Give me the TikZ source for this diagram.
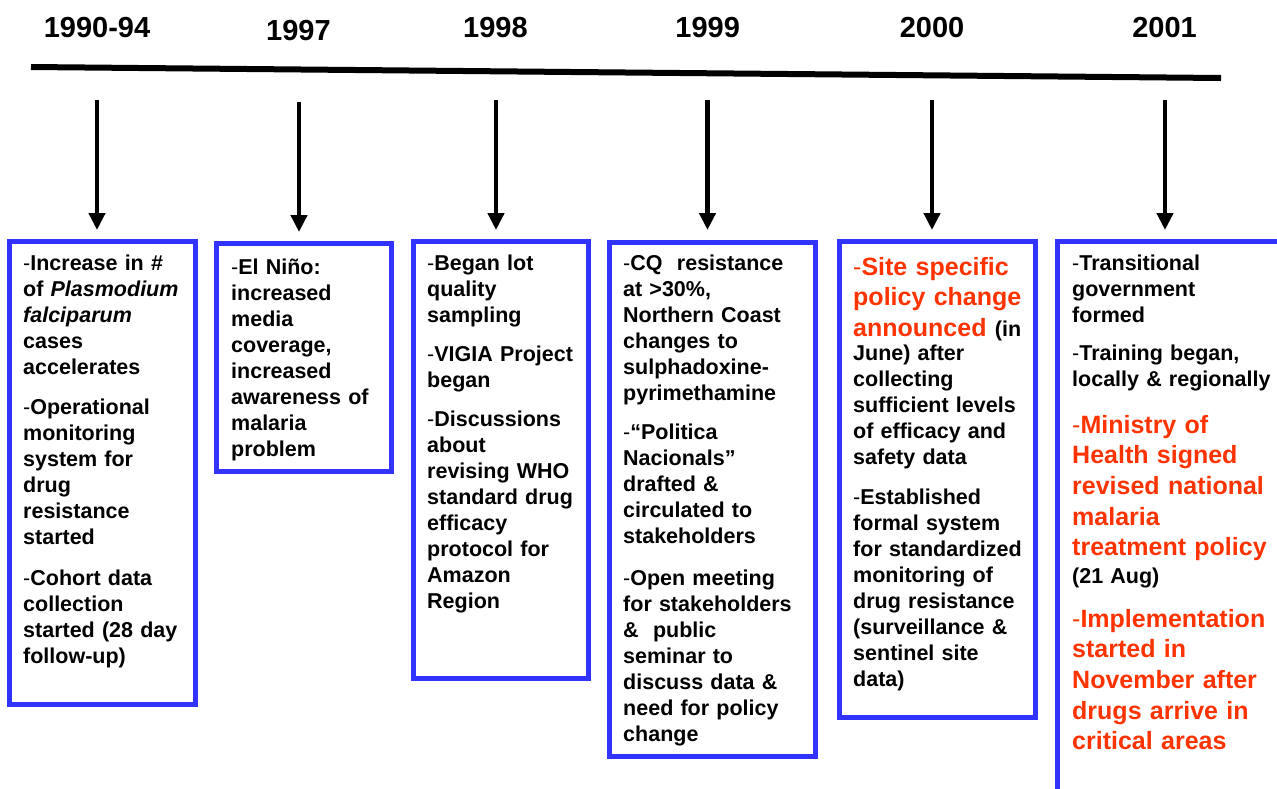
\documentclass[tikz,border=0pt]{standalone}
\usepackage{fontspec}
\setmainfont{Liberation Sans}
\usetikzlibrary{arrows.meta}
\definecolor{boxblue}{RGB}{51,51,255}
\definecolor{hired}{RGB}{255,51,0}
\newcommand\hy{{\mdseries -}}
\newcommand\blk[1]{{\color{black}\fontsize{21.5}{26}\selectfont #1}}
\tikzset{
  yearlbl/.style={anchor=base, inner sep=0pt, font=\bfseries\fontsize{29}{34}\selectfont},
  boxnode/.style={draw=boxblue, line width=5pt, rectangle, inner sep=0pt, outer sep=0pt, anchor=north west},
  arr/.style={line width=4.5pt, -{Triangle[length=17pt,width=16pt]}},
  txt/.style={anchor=base west, inner sep=0pt, text width=260pt, align=left, font=\bfseries\fontsize{21.5}{26}\selectfont},
  redtxt/.style={anchor=base west, inner sep=0pt, text width=260pt, align=left, text=hired, font=\bfseries\fontsize{25}{30.7}\selectfont}
}
\begin{document}
\begin{tikzpicture}[x=1pt,y=-1pt]
\useasboundingbox (0,0) rectangle (1277,788);
\clip (0,0) rectangle (1277,788);
\fill[white] (0,0) rectangle (1277,788);

% timeline
\coordinate (tl0) at (31,67);
\coordinate (tl1) at (1221,78);
\draw[line width=6pt] (tl0) -- (tl1);

% years
\node[yearlbl] (y1) at (97,37) {1990-94};
\node[yearlbl] (y2) at (298.5,40.5) {1997};
\node[yearlbl] (y3) at (495.5,37) {1998};
\node[yearlbl] (y4) at (707.7,37) {1999};
\node[yearlbl] (y5) at (932,37) {2000};
\node[yearlbl] (y6) at (1164.5,37) {2001};

% boxes
\node[boxnode, minimum width=185.4pt, minimum height=462.4pt] (b1) at (9.8,241.8) {};
\node[boxnode, minimum width=175pt, minimum height=228pt] (b2) at (216.8,243.5) {};
\node[boxnode, minimum width=174.5pt, minimum height=437pt] (b3) at (413.5,241.5) {};
\node[boxnode, minimum width=206pt, minimum height=514pt] (b4) at (609.8,242) {};
\node[boxnode, minimum width=196.6pt, minimum height=476.5pt] (b5) at (839.2,241.4) {};
\node[boxnode, minimum width=300pt, minimum height=600pt] (b6) at (1057.5,241.5) {};

% arrows
\coordinate (a1) at (97,99.5);
\coordinate (a2) at (299,101.5);
\coordinate (a3) at (496,99.5);
\coordinate (a4) at (707.5,99.5);
\coordinate (a5) at (932,99.5);
\coordinate (a6) at (1165,99.5);
\coordinate (e1) at ([yshift=11.8pt]b1.north);
\coordinate (e2) at ([yshift=11.5pt]b2.north);
\coordinate (e3) at ([yshift=11.5pt]b3.north);
\coordinate (e4) at ([yshift=12pt]b4.north);
\coordinate (e5) at ([yshift=11.4pt]b5.north);
\coordinate (e6) at ([yshift=11.5pt]b6.north);
\draw[arr] (a1) -- (a1 |- e1);
\draw[arr] (a2) -- (a2 |- e2);
\draw[arr] (a3) -- (a3 |- e3);
\draw[arr] (a4) -- (a4 |- e4);
\draw[arr] (a5) -- (a5 |- e5);
\draw[arr] (a6) -- (a6 |- e6);

% box 1
\node[txt] (t11) at (23,270.5) {\hy Increase in \#\\of \textit{Plasmodium}\\\textit{falciparum}\\cases\\accelerates};
\node[txt] (t12) at (23,414.5) {\hy Operational\\monitoring\\system for\\drug\\resistance\\started};
\node[txt] (t13) at (23,585.5) {\hy Cohort data\\collection\\started (28 day\\follow-up)};

% box 2
\node[txt] (t21) at (231,274.5) {\hy El Niño:\\increased\\media\\coverage,\\increased\\awareness of\\malaria\\problem};

% box 3
\node[txt] (t31) at (427,270.5) {\hy Began lot\\quality\\sampling};
\node[txt] (t32) at (427,361.5) {\hy VIGIA Project\\began};
\node[txt] (t33) at (427,426.5) {\hy Discussions\\about\\revising WHO\\standard drug\\efficacy\\protocol for\\Amazon\\Region};

% box 4
\node[txt] (t41) at (623,270.5) {\hy CQ~ resistance\\at >30\%,\\Northern Coast\\changes to\\sulphadoxine-\\pyrimethamine};
\node[txt] (t42) at (623,439.5) {\hy “Politica\\Nacionals”\\drafted \&\\circulated to\\stakeholders};
\node[txt] (t43) at (623,585.5) {\hy Open meeting\\for stakeholders\\\&~ public\\seminar to\\discuss data \&\\need for policy\\change};

% box 5
\node[redtxt] (t51) at (853,275) {\hy Site specific\\policy change\\announced \blk{(in}};
\node[txt] (t52) at (853,360.5) {June) after\\collecting\\sufficient levels\\of efficacy and\\safety data};
\node[txt] (t53) at (853,504.5) {\hy Established\\formal system\\for standardized\\monitoring of\\drug resistance\\(surveillance \&\\sentinel site\\data)};

% box 6
\node[txt] (t61) at (1072,270.5) {\hy Transitional\\government\\formed};
\node[txt] (t62) at (1072,360.5) {\hy Training began,\\locally \& regionally};
\node[redtxt] (t63) at (1072,433) {\hy Ministry of\\Health signed\\revised national\\malaria\\treatment policy};
\node[txt] (t64) at (1072,583.5) {(21 Aug)};
\node[redtxt] (t65) at (1072,627) {\hy Implementation\\started in\\November after\\drugs arrive in\\critical areas};
\end{tikzpicture}
\end{document}
